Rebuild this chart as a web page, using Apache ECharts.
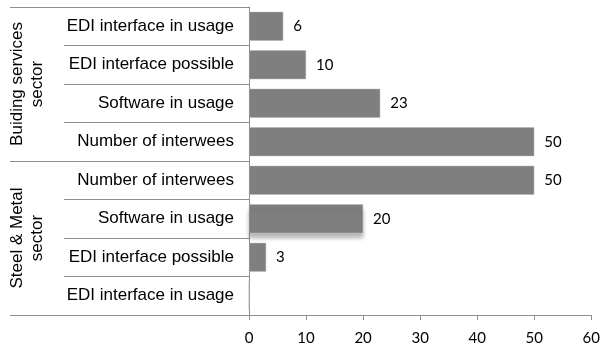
<!DOCTYPE html>
<html>
<head>
<meta charset="utf-8">
<script src="https://cdn.jsdelivr.net/npm/echarts@6/dist/echarts.min.js"></script>
<style>
  html, body { margin: 0; padding: 0; background: #fff; }
  #chart { width: 603px; height: 350px; }
</style>
</head>
<body>
<div id="chart"></div>
<script>
// Rows top to bottom, grouped by sector
const rowLabels = [
  'EDI interface in usage',
  'EDI interface possible',
  'Software in usage',
  'Number of interwees',
  'Number of interwees',
  'Software in usage',
  'EDI interface possible',
  'EDI interface in usage'
];
const rowValues = [6, 10, 23, 50, 50, 20, 3, 0];
const sectorLabels = ['Buiding services\nsector', 'Steel & Metal\nsector'];
const xTicks = [0, 10, 20, 30, 40, 50, 60];

const lineGray = '#8e8e8e';
const barGray = '#7f7f7f';
const labelFont = 'Liberation Sans, Arial, sans-serif';
const numFont = 'Lato, Open Sans, sans-serif';

const chart = echarts.init(document.getElementById('chart'), null, { renderer: 'canvas' });

const rowKeys = rowLabels.map((_, i) => String(i));

chart.setOption({
  animation: false,
  grid: { left: 249, right: 10, top: 7, bottom: 35, containLabel: false },
  xAxis: {
    type: 'value',
    min: xTicks[0],
    max: xTicks[xTicks.length - 1],
    interval: xTicks[1] - xTicks[0],
    splitLine: { show: false },
    axisLine: { show: true, lineStyle: { color: lineGray, width: 1 } },
    axisTick: { show: true, length: 5, lineStyle: { color: lineGray } },
    axisLabel: { color: '#000', fontFamily: numFont, fontSize: 15, margin: 16 }
  },
  yAxis: [
    {
      type: 'category',
      inverse: true,
      data: rowKeys,
      position: 'left',
      axisLine: { show: true, lineStyle: { color: lineGray, width: 1 } },
      axisTick: { show: true, interval: 0, length: 185, alignWithLabel: false, lineStyle: { color: lineGray } },
      axisLabel: {
        interval: 0,
        color: '#000',
        fontFamily: labelFont,
        fontSize: 17,
        margin: 15,
        formatter: (v) => rowLabels[Number(v)]
      }
    },
    {
      type: 'category',
      inverse: true,
      data: sectorLabels,
      position: 'left',
      offset: 185,
      axisLine: { show: false },
      axisTick: { show: true, interval: 0, length: 54, alignWithLabel: false, lineStyle: { color: lineGray } },
      axisLabel: {
        interval: 0,
        hideOverlap: false,
        color: '#000',
        fontFamily: labelFont,
        fontSize: 17,
        lineHeight: 20,
        rotate: 90,
        margin: 17,
        align: 'center'
      }
    }
  ],
  series: [{
    type: 'bar',
    yAxisIndex: 0,
    barCategoryGap: '25%',
    data: rowValues.map((v, i) => {
      const item = { value: v };
      // the steel-sector software bar carries a soft drop shadow below it
      if (i === 5) {
        item.itemStyle = { shadowColor: 'rgba(0,0,0,0.28)', shadowBlur: 4, shadowOffsetY: 5 };
      }
      return item;
    }),
    itemStyle: { color: barGray, borderColor: '#b5b5b5', borderWidth: 0.5 },
    label: {
      show: true,
      position: 'right',
      distance: 10,
      color: '#000',
      fontFamily: numFont,
      fontSize: 15,
      formatter: (p) => (p.value === 0 ? '' : String(p.value))
    }
  }]
});
</script>
</body>
</html>
